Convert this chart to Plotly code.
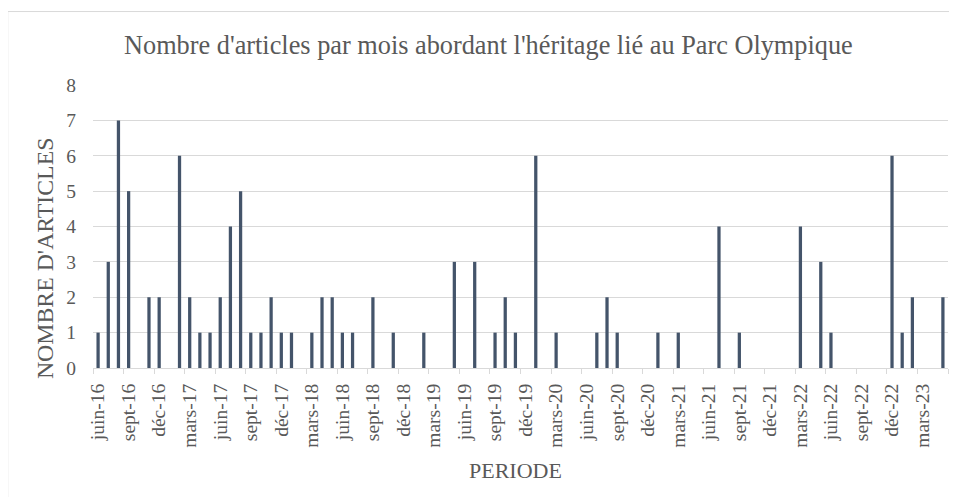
import plotly.graph_objects as go

months = [
    "juin-16", "juil-16", "août-16", "sept-16", "oct-16", "nov-16", "déc-16",
    "janv-17", "févr-17", "mars-17", "avr-17", "mai-17", "juin-17", "juil-17", "août-17", "sept-17", "oct-17", "nov-17", "déc-17",
    "janv-18", "févr-18", "mars-18", "avr-18", "mai-18", "juin-18", "juil-18", "août-18", "sept-18", "oct-18", "nov-18", "déc-18",
    "janv-19", "févr-19", "mars-19", "avr-19", "mai-19", "juin-19", "juil-19", "août-19", "sept-19", "oct-19", "nov-19", "déc-19",
    "janv-20", "févr-20", "mars-20", "avr-20", "mai-20", "juin-20", "juil-20", "août-20", "sept-20", "oct-20", "nov-20", "déc-20",
    "janv-21", "févr-21", "mars-21", "avr-21", "mai-21", "juin-21", "juil-21", "août-21", "sept-21", "oct-21", "nov-21", "déc-21",
    "janv-22", "févr-22", "mars-22", "avr-22", "mai-22", "juin-22", "juil-22", "août-22", "sept-22", "oct-22", "nov-22", "déc-22",
    "janv-23", "févr-23", "mars-23", "avr-23", "mai-23",
]

articles = [
    1, 3, 7, 5, 0, 2, 2,
    0, 6, 2, 1, 1, 2, 4, 5, 1, 1, 2, 1,
    1, 0, 1, 2, 2, 1, 1, 0, 2, 0, 1, 0,
    0, 1, 0, 0, 3, 0, 3, 0, 1, 2, 1, 0,
    6, 0, 1, 0, 0, 0, 1, 2, 1, 0, 0, 0,
    1, 0, 1, 0, 0, 0, 4, 0, 1, 0, 0, 0,
    0, 0, 4, 0, 3, 1, 0, 0, 0, 0, 0, 6,
    1, 2, 0, 0, 2,
]

tick_labels = [
    "juin-16", "sept-16", "déc-16", "mars-17", "juin-17", "sept-17", "déc-17",
    "mars-18", "juin-18", "sept-18", "déc-18", "mars-19", "juin-19", "sept-19",
    "déc-19", "mars-20", "juin-20", "sept-20", "déc-20", "mars-21", "juin-21",
    "sept-21", "déc-21", "mars-22", "juin-22", "sept-22", "déc-22", "mars-23",
]

title_text = "Nombre d'articles par mois abordant l'héritage lié au Parc Olympique"
y_title = "NOMBRE D'ARTICLES"
x_title = "PERIODE"

# the page body has an 8px default margin; work in page pixels and shift
OFF = 8
W, H = 957 - OFF, 497 - OFF
L, R = 93.3 - OFF, 948.4 - OFF
T, B = 84.5 - OFF, 367.7 - OFF

def px(x):
    return (x - OFF - L) / (R - L)

def py(y):
    return (B - (y - OFF)) / (B - T)

FONT = "Liberation Serif"
GRAY = "#595959"
TICK_SIZE = 19.5

xpos = list(range(len(months)))
tick_pos = [months.index(t) for t in tick_labels]

fig = go.Figure(go.Bar(
    x=xpos, y=articles, width=0.32,
    marker=dict(color="#44546A", line=dict(width=0)),
    hovertext=months, hoverinfo="text+y",
))

fig.update_layout(
    width=W, height=H,
    margin=dict(l=L, r=W - R, t=T, b=H - B, pad=0),
    paper_bgcolor="white", plot_bgcolor="white",
    showlegend=False,
    font=dict(family=FONT, color=GRAY, size=TICK_SIZE),
    xaxis=dict(
        range=[-0.5, len(months) - 0.5],
        tickmode="array", tickvals=tick_pos, ticktext=tick_labels,
        tickangle=-90, ticks="outside", ticklen=7, tickcolor="rgba(0,0,0,0)",
        tickfont=dict(family=FONT, color=GRAY, size=TICK_SIZE),
        showgrid=False, zeroline=False,
        showline=True, linecolor="#d9d9d9", linewidth=1,
        minor=dict(ticks="outside", tick0=-0.5, dtick=3, ticklen=5,
                   tickcolor="#d9d9d9", tickwidth=1, showgrid=False),
    ),
    yaxis=dict(
        range=[0, 8], dtick=1, tick0=0,
        ticks="outside", ticklen=12, tickcolor="rgba(0,0,0,0)",
        tickfont=dict(family=FONT, color=GRAY, size=TICK_SIZE),
        showgrid=True, gridcolor="#d9d9d9", gridwidth=1,
        zeroline=False, showline=False,
    ),
    shapes=[dict(type="rect", xref="paper", yref="paper",
                 x0=px(8), x1=px(990), y0=py(530), y1=py(11),
                 line=dict(color="#d9d9d9", width=1), fillcolor="rgba(0,0,0,0)",
                 layer="below")],
    annotations=[
        dict(text=title_text, xref="paper", yref="paper", x=px(488.5), y=py(45),
             xanchor="center", yanchor="middle", showarrow=False,
             font=dict(family=FONT, color=GRAY, size=26.3)),
        dict(text=y_title, xref="paper", yref="paper", x=px(46), y=py(258),
             xanchor="center", yanchor="middle", showarrow=False, textangle=-90,
             font=dict(family=FONT, color=GRAY, size=23.8)),
        dict(text=x_title, xref="paper", yref="paper", x=px(516), y=py(470),
             xanchor="center", yanchor="middle", showarrow=False,
             font=dict(family=FONT, color=GRAY, size=22)),
    ],
)

fig.write_html("out.html")
